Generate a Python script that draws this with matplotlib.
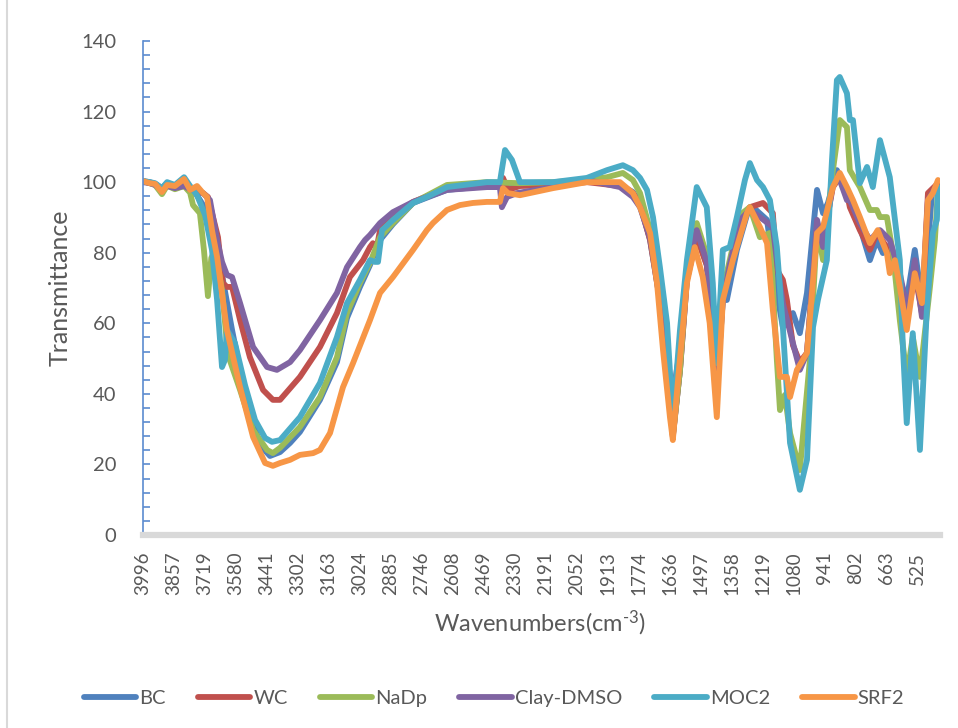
import matplotlib
matplotlib.use('Agg')
import matplotlib.pyplot as plt
from matplotlib.ticker import MultipleLocator
from matplotlib.lines import Line2D

plt.rcParams['font.family'] = ['Lato', 'DejaVu Sans']
plt.rcParams['mathtext.fontset'] = 'custom'
plt.rcParams['mathtext.rm'] = 'Lato'
plt.rcParams['mathtext.default'] = 'regular'

# FTIR spectra, wavenumber (cm-1) vs transmittance
bc_wn = [3996, 3965, 3942, 3911, 3888, 3853, 3812, 3785, 3754, 3727,
         3687, 3642, 3597, 3561, 3517, 3472, 3427, 3382, 3337, 3293,
         3203, 3127, 3082, 3024, 2979, 2934, 2876, 2786, 2634, 2455,
         2397, 2374, 2307, 2159, 2007, 1859, 1801, 1769, 1724, 1680,
         1648, 1622, 1590, 1559, 1515, 1470, 1443, 1425, 1398, 1380,
         1335, 1290, 1263, 1200, 1156, 1129, 1084, 1053, 1021, 976,
         949, 927, 887, 860, 829, 784, 739, 708, 681, 650,
         605, 574, 538, 506, 484, 461, 434]
bc_t = [100.3, 100.0, 99.5, 98.3, 99.7, 98.9, 100.6, 98.3, 96.3, 93.5,
        86.4, 73.7, 58.1, 46.8, 35.4, 25.5, 22.4, 23.5, 26.1, 29.2,
        38.3, 49.0, 61.5, 70.3, 76.5, 83.6, 88.1, 94.1, 97.8, 98.9,
        98.9, 98.3, 99.2, 99.5, 100.3, 99.2, 97.2, 94.1, 83.6, 66.6,
        46.8, 28.3, 46.8, 72.3, 85.0, 76.5, 58.1, 42.5, 66.6, 66.6,
        80.8, 90.7, 92.9, 89.3, 68.6, 58.9, 62.9, 57.2, 68.6, 97.8,
        91.2, 94.1, 103.4, 99.7, 94.9, 87.3, 77.9, 83.6, 79.9, 81.6,
        72.3, 66.6, 80.8, 66.6, 77.9, 96.9, 99.7]

wc_wn = [3996, 3965, 3942, 3911, 3888, 3853, 3812, 3785, 3754, 3727,
         3705, 3660, 3638, 3620, 3597, 3561, 3517, 3458, 3414, 3382,
         3293, 3203, 3127, 3069, 3010, 2979, 2966, 2948, 2934, 2876,
         2786, 2634, 2455, 2397, 2383, 2361, 2307, 2159, 2007, 1859,
         1801, 1769, 1724, 1680, 1648, 1622, 1590, 1559, 1515, 1470,
         1443, 1425, 1398, 1367, 1321, 1277, 1218, 1174, 1156, 1129,
         1111, 1084, 1053, 1021, 976, 949, 905, 874, 842, 829,
         784, 739, 708, 663, 618, 574, 538, 506, 479, 434]
wc_t = [100.3, 99.7, 99.5, 98.0, 99.5, 98.6, 99.5, 98.3, 97.2, 96.9,
        95.8, 84.4, 71.4, 70.3, 70.3, 60.9, 50.4, 41.1, 38.3, 38.3,
        44.8, 53.3, 62.9, 73.1, 77.9, 81.6, 82.7, 81.6, 86.4, 90.1,
        94.4, 98.3, 98.9, 98.9, 101.2, 97.8, 98.9, 99.2, 100.0, 98.9,
        96.9, 93.5, 83.6, 66.6, 46.8, 27.8, 46.8, 72.3, 84.4, 76.5,
        60.9, 43.9, 68.0, 75.7, 87.8, 92.9, 94.1, 91.2, 75.1, 72.3,
        66.6, 53.8, 49.0, 51.6, 87.3, 83.6, 98.6, 101.4, 96.9, 92.9,
        86.4, 80.8, 85.6, 81.6, 75.9, 60.9, 74.2, 62.9, 96.9, 99.7]

nadp_wn = [3996, 3965, 3942, 3911, 3888, 3853, 3812, 3785, 3772, 3741,
           3723, 3705, 3690, 3673, 3642, 3615, 3561, 3503, 3440, 3414,
           3382, 3293, 3203, 3127, 3082, 3024, 2979, 2934, 2876, 2786,
           2634, 2455, 2307, 2159, 2007, 1917, 1846, 1801, 1769, 1724,
           1680, 1648, 1622, 1590, 1559, 1515, 1470, 1443, 1425, 1398,
           1367, 1321, 1277, 1232, 1187, 1156, 1142, 1120, 1097, 1053,
           1008, 976, 949, 909, 874, 842, 829, 784, 739, 708,
           694, 663, 636, 605, 574, 547, 515, 470, 448, 434]
nadp_t = [100.3, 99.7, 99.2, 96.6, 99.0, 98.0, 98.9, 97.0, 93.5, 91.2,
          80.8, 67.7, 78.5, 80.8, 69.4, 51.0, 41.1, 29.8, 24.1, 23.2,
          24.7, 30.6, 39.1, 50.4, 62.9, 71.4, 77.1, 84.4, 88.4, 94.1,
          99.2, 100.0, 99.7, 100.0, 100.6, 101.4, 102.6, 100.6, 96.9, 86.4,
          68.0, 46.8, 28.3, 46.8, 75.1, 88.4, 79.3, 62.3, 47.6, 69.4,
          77.9, 90.7, 92.9, 84.4, 85.6, 49.6, 35.4, 39.7, 28.9, 18.4,
          49.6, 87.3, 77.9, 101.4, 117.6, 115.6, 103.4, 98.6, 92.1, 92.1,
          90.1, 90.1, 79.9, 60.9, 44.8, 56.1, 44.8, 70.3, 83.6, 97.8]

clay_wn = [3996, 3965, 3942, 3911, 3888, 3853, 3812, 3785, 3754, 3727,
           3696, 3664, 3642, 3620, 3597, 3561, 3503, 3440, 3396, 3337,
           3293, 3203, 3127, 3082, 3024, 3001, 2979, 2934, 2876, 2786,
           2634, 2455, 2397, 2388, 2365, 2320, 2159, 2007, 1859, 1801,
           1769, 1724, 1680, 1648, 1622, 1590, 1559, 1515, 1470, 1443,
           1425, 1398, 1367, 1321, 1277, 1232, 1174, 1151, 1129, 1084,
           1053, 1021, 976, 949, 905, 874, 842, 829, 784, 739,
           694, 650, 605, 569, 538, 506, 479, 434]
clay_t = [100.0, 99.7, 99.2, 97.8, 98.9, 98.3, 98.9, 98.0, 97.5, 96.9,
          94.9, 83.6, 77.4, 73.7, 73.1, 65.7, 53.3, 47.6, 46.8, 49.0,
          52.4, 60.9, 68.6, 75.9, 81.6, 83.6, 85.0, 88.4, 91.5, 94.4,
          97.8, 98.6, 98.6, 92.9, 95.8, 96.9, 98.6, 100.6, 98.6, 95.8,
          92.9, 84.2, 68.0, 49.6, 39.7, 52.4, 75.1, 86.4, 77.4, 60.9,
          42.5, 66.6, 76.5, 89.3, 92.1, 90.1, 87.3, 75.1, 65.7, 54.4,
          46.8, 51.6, 89.3, 81.6, 99.7, 100.6, 94.9, 94.9, 88.4, 83.6,
          86.4, 83.6, 74.2, 62.9, 77.9, 61.8, 94.9, 99.7]

moc2_wn = [3996, 3965, 3942, 3911, 3888, 3853, 3812, 3785, 3754, 3718,
           3687, 3664, 3642, 3629, 3620, 3584, 3539, 3494, 3449, 3418,
           3382, 3293, 3203, 3127, 3082, 3024, 2979, 2957, 2943, 2925,
           2876, 2786, 2724, 2634, 2455, 2397, 2374, 2343, 2307, 2159,
           2007, 1917, 1846, 1801, 1769, 1738, 1711, 1680, 1648, 1622,
           1590, 1559, 1515, 1470, 1443, 1425, 1398, 1367, 1335, 1299,
           1277, 1245, 1218, 1187, 1156, 1129, 1097, 1053, 1021, 994,
           972, 932, 909, 887, 874, 842, 829, 815, 784, 752,
           726, 694, 650, 605, 592, 574, 547, 515, 484, 457,
           439, 434]
moc2_t = [100.3, 100.0, 99.7, 98.3, 100.0, 99.2, 101.4, 98.9, 96.3, 90.7,
          80.8, 66.6, 47.6, 49.6, 58.1, 54.4, 42.5, 32.6, 27.5, 26.4,
          26.9, 33.4, 43.1, 56.1, 65.7, 72.3, 77.9, 77.4, 77.4, 86.4,
          89.3, 94.1, 95.8, 98.6, 100.0, 100.0, 109.1, 106.3, 100.0, 100.0,
          101.2, 103.4, 104.8, 103.4, 101.2, 97.8, 90.1, 75.9, 60.1, 32.6,
          58.1, 77.9, 98.6, 92.9, 71.4, 48.7, 80.8, 81.6, 90.1, 100.6,
          105.4, 100.6, 98.6, 94.9, 81.6, 58.9, 26.1, 12.8, 21.3, 58.9,
          66.6, 77.9, 106.3, 128.9, 129.8, 125.2, 117.6, 117.6, 99.7, 104.3,
          98.6, 111.9, 101.4, 77.9, 54.4, 31.7, 57.2, 24.1, 63.8, 85.6,
          89.3, 98.6]

srf2_wn = [3996, 3965, 3942, 3911, 3888, 3853, 3812, 3785, 3754, 3727,
           3709, 3687, 3664, 3620, 3561, 3503, 3449, 3414, 3382, 3337,
           3293, 3234, 3203, 3158, 3100, 3055, 2979, 2934, 2876, 2786,
           2724, 2697, 2634, 2576, 2518, 2455, 2397, 2383, 2361, 2307,
           2159, 2007, 1859, 1801, 1769, 1724, 1693, 1666, 1635, 1622,
           1600, 1559, 1524, 1488, 1457, 1425, 1398, 1353, 1290, 1277,
           1232, 1200, 1174, 1142, 1111, 1097, 1066, 1021, 976, 949,
           905, 874, 842, 815, 784, 739, 704, 663, 650, 627,
           605, 574, 538, 506, 479, 457, 434]
srf2_t = [100.3, 99.7, 99.5, 97.2, 99.2, 98.9, 100.9, 97.8, 98.9, 96.9,
          95.8, 86.4, 78.8, 58.1, 41.9, 27.8, 20.4, 19.6, 20.4, 21.3,
          22.7, 23.2, 24.1, 28.9, 41.9, 48.7, 60.9, 68.6, 73.1, 80.8,
          86.4, 88.4, 92.1, 93.5, 94.1, 94.4, 94.4, 98.3, 96.9, 96.3,
          98.3, 100.0, 100.0, 96.9, 92.9, 85.6, 71.4, 52.4, 33.4, 26.9,
          43.1, 71.4, 81.6, 73.1, 60.1, 33.4, 66.6, 77.9, 91.2, 92.9,
          87.3, 82.7, 63.8, 44.8, 44.8, 39.1, 46.8, 51.6, 85.6, 87.3,
          98.6, 102.6, 98.6, 94.9, 90.1, 82.7, 86.4, 79.9, 74.2, 77.9,
          70.3, 58.1, 74.2, 65.7, 94.9, 96.9, 100.6]

names = ['BC', 'WC', 'NaDp', 'Clay-DMSO', 'MOC2', 'SRF2']
colors = ['#4F81BD', '#C0504D', '#9BBB59', '#8064A2', '#4BACC6', '#F79646']
tick_wn = [3996, 3857, 3719, 3580, 3441, 3302, 3163, 3024, 2885, 2746,
           2608, 2469, 2330, 2191, 2052, 1913, 1774, 1636, 1497, 1358,
           1219, 1080, 941, 802, 663, 525]

fig = plt.figure(figsize=(9.58, 7.28), dpi=100)
ax = fig.add_axes([143 / 958, 1 - 535 / 728, 797 / 958, 494 / 728])

data = [(bc_wn, bc_t), (wc_wn, wc_t), (nadp_wn, nadp_t),
        (clay_wn, clay_t), (moc2_wn, moc2_t), (srf2_wn, srf2_t)]
for (wn, t), name, c in zip(data, names, colors):
    ax.plot(wn, t, color=c, lw=4.2, label=name,
            solid_joinstyle='round', solid_capstyle='round')

ax.set_xlim(3996, 425)
ax.set_ylim(0, 140)
ax.set_xticks(tick_wn)
ax.set_xticklabels([str(v) for v in tick_wn], rotation=90)
ax.tick_params(axis='x', length=0, pad=12, labelsize=13.5, labelcolor='#595959')
ax.yaxis.set_major_locator(MultipleLocator(20))
ax.yaxis.set_minor_locator(MultipleLocator(4))
ax.tick_params(axis='y', which='both', direction='in', length=5,
               color='#5B8BD0', width=1.2, labelsize=14.5,
               labelcolor='#595959', pad=19)

for s in ['top', 'right']:
    ax.spines[s].set_visible(False)
ax.spines['left'].set_color('#5B8BD0')
ax.spines['left'].set_linewidth(1.2)
ax.spines['bottom'].set_color('#D9D9D9')
ax.spines['bottom'].set_linewidth(4.5)

ax.set_ylabel('Transmittance', fontsize=18, color='#595959', va='center')
ax.yaxis.set_label_coords(-0.104, 0.5)
ax.set_xlabel(r'Wavenumbers(cm$^{\text{-}3}$)', fontsize=17, color='#595959',
              va='center')
ax.xaxis.set_label_coords(0.498, -0.178)

fig.legend(loc='center', bbox_to_anchor=(494 / 958, 1 - 698 / 728), ncol=6,
           frameon=False, fontsize=14.5, handlelength=2.6, handletextpad=0.15,
           columnspacing=1.6, labelcolor='#595959')

# thin frame line on the left edge of the chart area
fig.add_artist(Line2D([7 / 958, 7 / 958], [0, 1], transform=fig.transFigure,
                      color='#D9D9D9', lw=1.5))

fig.savefig('out.png', dpi=100)
